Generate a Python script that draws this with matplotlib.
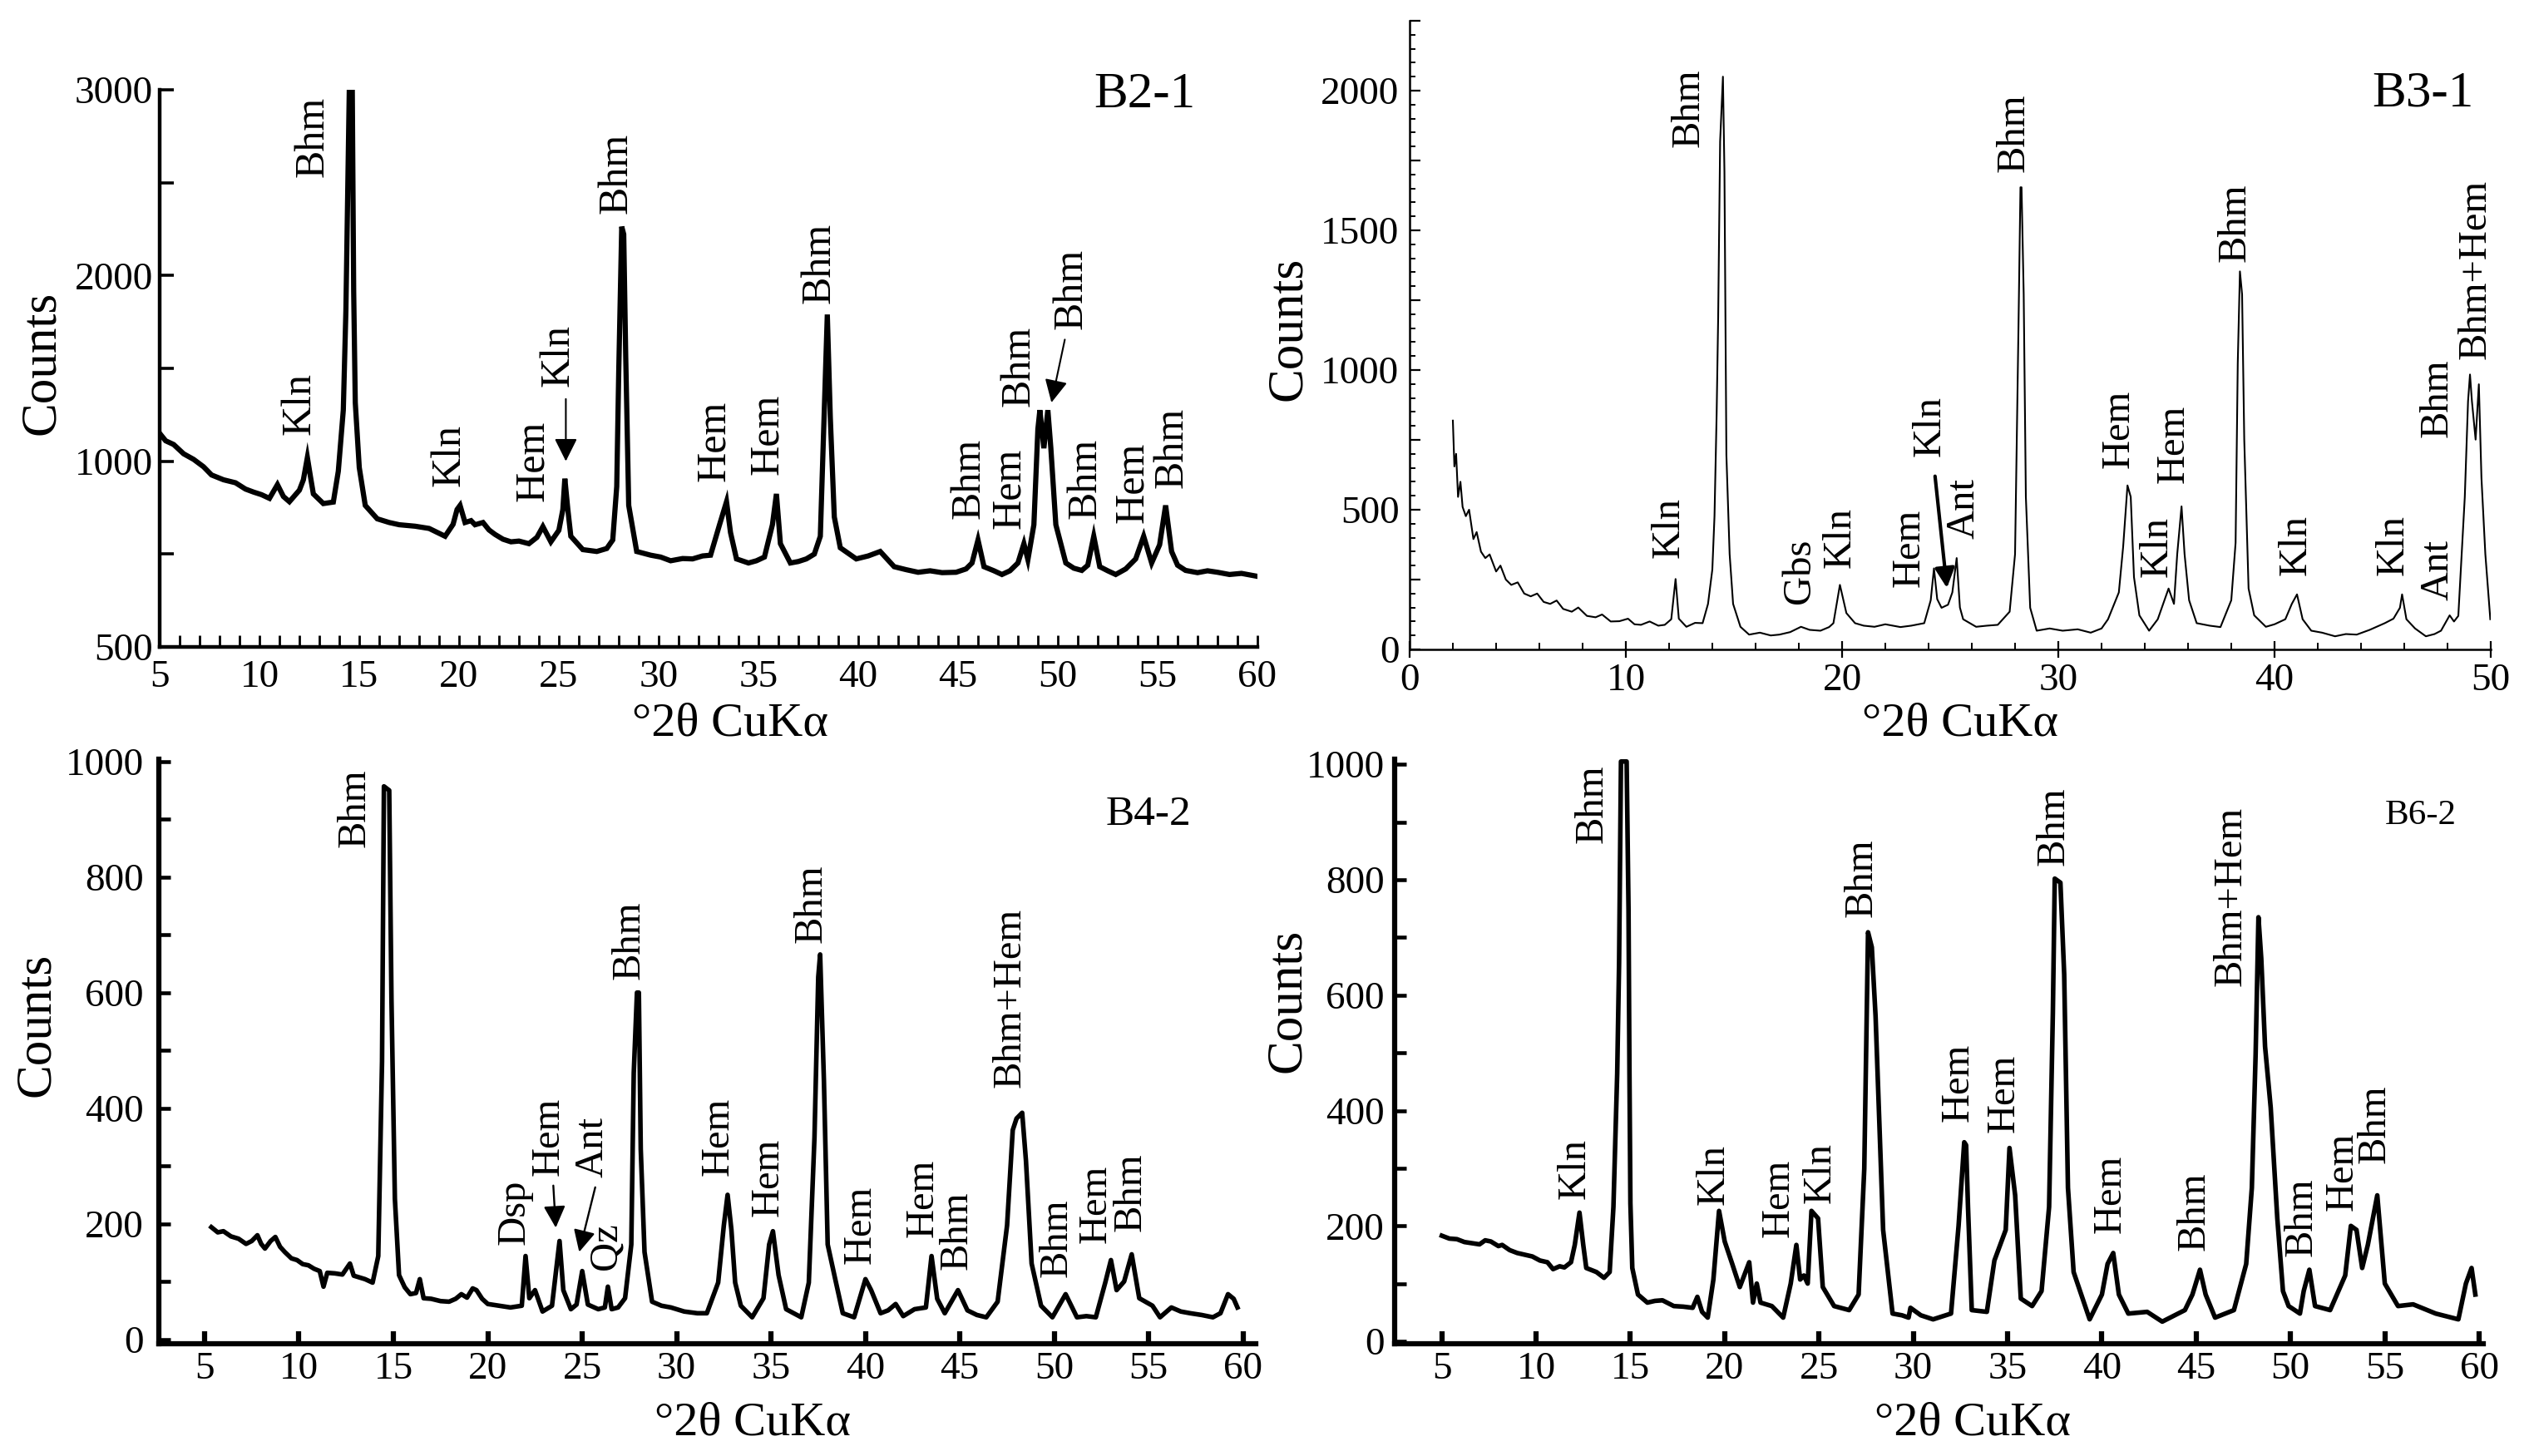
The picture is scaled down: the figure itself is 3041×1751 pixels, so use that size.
import matplotlib
matplotlib.use("Agg")
import matplotlib.pyplot as plt
import numpy as np
from matplotlib.ticker import MultipleLocator, FuncFormatter

plt.rcParams['font.family'] = ['Liberation Serif', 'DejaVu Serif']

#--DATA--#
# B2-1 (counts, drawn on the odd 500/1000/2000/3000 axis of the original)
b21_x = [5.0, 5.3, 5.7, 6.2, 6.7, 7.2, 7.6, 8.2, 8.8, 9.3,
         9.7, 10.1, 10.5, 10.9, 11.2, 11.5, 12.0, 12.2, 12.4, 12.55,
         12.7, 13.2, 13.7, 13.95, 14.2, 14.33, 14.43, 14.5, 14.65, 14.72,
         14.8, 15.0, 15.3, 15.9, 16.5, 17.0, 17.8, 18.5, 19.3, 19.7,
         19.9, 20.05, 20.3, 20.6, 20.8, 21.2, 21.5, 21.8, 22.2, 22.6,
         23.0, 23.5, 23.9, 24.2, 24.6, 25.0, 25.2, 25.3, 25.45, 25.6,
         26.2, 26.9, 27.4, 27.7, 27.9, 28.0, 28.15, 28.25, 28.35, 28.5,
         28.9, 29.6, 30.1, 30.6, 31.2, 31.7, 32.2, 32.6, 33.05, 33.4,
         33.6, 33.9, 34.5, 34.9, 35.3, 35.7, 35.9, 36.1, 36.6, 37.0,
         37.4, 37.8, 38.1, 38.3, 38.45, 38.6, 38.8, 39.1, 39.9, 40.5,
         41.1, 41.8, 42.4, 43.0, 43.6, 44.2, 44.9, 45.4, 45.7, 46.0,
         46.3, 46.8, 47.2, 47.6, 48.0, 48.3, 48.5, 48.8, 49.0, 49.1,
         49.3, 49.5, 49.65, 49.9, 50.4, 50.8, 51.2, 51.5, 51.8, 52.1,
         52.5, 52.9, 53.4, 53.9, 54.3, 54.7, 55.1, 55.4, 55.7, 56.0,
         56.4, 57.0, 57.5, 58.0, 58.6, 59.2, 60.0]
b21_y = [1150, 1110, 1090, 1040, 1010, 985, 963, 950, 942, 925,
         917, 910, 900, 937, 905, 891, 922, 950, 1020, 960,
         912, 886, 890, 973, 1275, 1810, 2510, 3000, 3000, 1915,
         1316, 983, 881, 845, 835, 829, 825, 819, 798, 830,
         870, 881, 835, 840, 829, 835, 815, 803, 790, 783,
         785, 778, 795, 824, 783, 814, 870, 953, 870, 798,
         762, 757, 765, 788, 932, 1481, 2263, 2222, 1564, 881,
         757, 747, 742, 732, 738, 737, 745, 747, 829, 891,
         808, 737, 726, 732, 742, 829, 912, 778, 726, 730,
         737, 750, 798, 1275, 1790, 1235, 850, 767, 737, 745,
         757, 716, 708, 701, 705, 700, 701, 710, 726, 788,
         716, 705, 695, 705, 726, 778, 735, 829, 1173, 1275,
         1070, 1275, 1070, 829, 726, 712, 706, 720, 798, 716,
         705, 695, 710, 737, 798, 726, 775, 881, 757, 720,
         706, 700, 705, 701, 695, 698, 690]

# B3-1
b31_x = [2.0, 2.07, 2.15, 2.24, 2.35, 2.45, 2.6, 2.75, 2.95, 3.1,
         3.3, 3.5, 3.7, 4.0, 4.2, 4.45, 4.7, 5.0, 5.3, 5.6,
         5.9, 6.2, 6.5, 6.8, 7.1, 7.5, 7.8, 8.2, 8.6, 8.9,
         9.3, 9.7, 10.1, 10.4, 10.7, 11.1, 11.5, 11.8, 12.1, 12.3,
         12.45, 12.8, 13.2, 13.55, 13.8, 14.0, 14.1, 14.2, 14.27, 14.36,
         14.43, 14.49, 14.56, 14.65, 14.8, 14.96, 15.3, 15.7, 16.2, 16.7,
         17.1, 17.6, 18.1, 18.5, 19.0, 19.4, 19.6, 19.9, 20.2, 20.6,
         21.0, 21.5, 22.0, 22.7, 23.2, 23.8, 24.1, 24.25, 24.4, 24.6,
         24.9, 25.1, 25.3, 25.45, 25.6, 26.2, 26.7, 27.2, 27.75, 28.0,
         28.16, 28.25, 28.3, 28.4, 28.5, 28.7, 29.0, 29.6, 30.2, 30.9,
         31.5, 32.0, 32.3, 32.8, 33.0, 33.2, 33.35, 33.5, 33.75, 34.2,
         34.6, 35.1, 35.35, 35.5, 35.7, 35.84, 36.05, 36.4, 37.0, 37.5,
         38.0, 38.2, 38.3, 38.4, 38.5, 38.6, 38.8, 39.06, 39.6, 40.0,
         40.5, 40.8, 41.04, 41.3, 41.7, 42.2, 42.8, 43.3, 43.8, 44.4,
         45.1, 45.5, 45.8, 45.9, 46.1, 46.5, 47.0, 47.4, 47.7, 48.1,
         48.3, 48.5, 48.8, 48.95, 49.04, 49.13, 49.3, 49.45, 49.57, 49.75,
         49.98]
b31_y = [819, 655, 700, 546, 600, 510, 477, 500, 395, 420,
         350, 327, 340, 279, 300, 250, 231, 240, 200, 190,
         200, 170, 163, 175, 145, 135, 150, 120, 115, 125,
         100, 101, 110, 90, 88, 100, 85, 88, 108, 252,
         110, 81, 95, 94, 163, 286, 477, 847, 1189, 1818,
         1941, 2050, 1709, 696, 341, 163, 81, 53, 60, 50,
         53, 62, 81, 70, 67, 80, 94, 231, 130, 94,
         85, 81, 90, 80, 85, 94, 176, 290, 180, 149,
         160, 204, 327, 150, 108, 81, 85, 88, 135, 341,
         1161, 1654, 1654, 1271, 546, 149, 67, 75, 67, 72,
         60, 75, 108, 204, 368, 587, 546, 259, 122, 67,
         108, 218, 163, 341, 512, 341, 176, 94, 85, 80,
         176, 382, 1025, 1353, 1271, 751, 218, 122, 81, 90,
         108, 163, 197, 108, 67, 60, 47, 55, 53, 70,
         94, 110, 149, 197, 108, 75, 47, 55, 67, 122,
         100, 120, 546, 888, 984, 888, 751, 949, 614, 341,
         108]

# B4-2
b42_x = [5.36, 5.7, 6.0, 6.4, 6.8, 7.2, 7.5, 7.8, 8.0, 8.2,
         8.5, 8.75, 9.0, 9.25, 9.6, 9.9, 10.2, 10.5, 10.8, 11.1,
         11.3, 11.5, 11.9, 12.3, 12.7, 12.9, 13.1, 13.5, 13.9, 14.2,
         14.4, 14.5, 14.78, 14.9, 15.08, 15.3, 15.6, 15.9, 16.2, 16.4,
         16.6, 17.0, 17.5, 17.95, 18.3, 18.6, 18.9, 19.2, 19.4, 19.7,
         20.0, 20.6, 21.2, 21.8, 22.0, 22.2, 22.5, 22.9, 23.4, 23.8,
         24.0, 24.4, 24.7, 25.0, 25.3, 25.85, 26.2, 26.36, 26.56, 26.9,
         27.27, 27.6, 27.73, 27.9, 28.0, 28.1, 28.3, 28.7, 29.2, 29.7,
         30.4, 31.1, 31.6, 32.2, 32.5, 32.7, 32.9, 33.1, 33.4, 34.0,
         34.6, 34.9, 35.1, 35.4, 35.8, 36.6, 37.0, 37.3, 37.5, 37.6,
         37.8, 38.0, 38.4, 38.8, 39.4, 40.0, 40.3, 40.8, 41.2, 41.6,
         42.0, 42.6, 43.2, 43.5, 43.8, 44.2, 44.9, 45.4, 45.9, 46.4,
         47.0, 47.5, 47.8, 48.0, 48.3, 48.5, 48.8, 49.3, 49.9, 50.6,
         51.2, 51.7, 52.2, 52.7, 53.0, 53.3, 53.7, 54.1, 54.5, 55.2,
         55.6, 56.2, 56.7, 57.2, 57.8, 58.4, 58.8, 59.2, 59.5, 59.7]
b42_y = [194, 185, 187, 178, 174, 165, 170, 180, 165, 157,
         170, 177, 160, 151, 140, 137, 130, 128, 122, 118,
         91, 115, 114, 112, 131, 110, 108, 104, 98, 144,
         481, 957, 950, 587, 243, 111, 90, 78, 80, 104,
         71, 70, 66, 65, 70, 78, 72, 88, 85, 70,
         61, 58, 55, 58, 144, 71, 85, 48, 58, 170,
         85, 52, 60, 118, 60, 52, 55, 91, 52, 55,
         71, 164, 461, 600, 600, 329, 151, 65, 58, 55,
         48, 45, 45, 98, 197, 250, 190, 98, 58, 38,
         71, 164, 187, 111, 52, 38, 98, 349, 627, 666,
         448, 164, 104, 45, 38, 104, 85, 45, 50, 61,
         40, 52, 55, 144, 70, 45, 85, 50, 42, 38,
         65, 197, 362, 382, 392, 309, 131, 58, 38, 78,
         38, 40, 38, 98, 137, 85, 100, 147, 71, 58,
         38, 55, 48, 45, 42, 38, 45, 78, 70, 55]

# B6-2
b62_x = [5.0, 5.4, 5.8, 6.2, 6.6, 7.0, 7.3, 7.6, 8.0, 8.2,
         8.6, 9.0, 9.4, 9.8, 10.2, 10.6, 10.9, 11.25, 11.5, 11.85,
         12.05, 12.3, 12.5, 12.66, 13.2, 13.6, 13.9, 14.1, 14.3, 14.4,
         14.5, 14.8, 14.9, 14.95, 15.0, 15.1, 15.4, 15.9, 16.3, 16.7,
         17.3, 17.8, 18.3, 18.55, 18.8, 19.1, 19.4, 19.7, 20.0, 20.4,
         20.8, 21.3, 21.5, 21.7, 21.9, 22.5, 23.1, 23.5, 23.8, 24.0,
         24.2, 24.4, 24.6, 24.95, 25.2, 25.8, 26.6, 27.1, 27.4, 27.6,
         27.8, 28.0, 28.2, 28.4, 28.9, 29.4, 29.75, 29.85, 30.4, 31.05,
         32.0, 32.4, 32.7, 32.8, 32.9, 33.1, 33.9, 34.3, 34.9, 35.1,
         35.4, 35.7, 36.3, 36.8, 37.2, 37.4, 37.5, 37.8, 38.0, 38.2,
         38.5, 39.35, 40.0, 40.3, 40.6, 40.9, 41.4, 42.4, 43.2, 44.4,
         44.8, 45.2, 45.5, 46.0, 47.0, 47.65, 47.95, 48.15, 48.3, 48.45,
         48.65, 48.95, 49.3, 49.6, 49.9, 50.5, 50.7, 51.0, 51.3, 52.1,
         52.9, 53.2, 53.5, 53.8, 54.1, 54.6, 55.0, 55.7, 56.5, 57.7,
         58.9, 59.3, 59.6, 59.8]
b62_y = [183, 178, 177, 172, 170, 168, 175, 173, 165, 167,
         158, 153, 150, 147, 140, 137, 125, 130, 128, 137,
         167, 223, 167, 127, 120, 110, 120, 233, 464, 656,
         1005, 1005, 749, 464, 239, 127, 81, 67, 70, 71,
         61, 60, 58, 77, 51, 41, 107, 226, 173, 134,
         94, 137, 67, 100, 67, 61, 41, 100, 167, 107,
         114, 100, 226, 213, 94, 61, 54, 81, 299, 709,
         683, 563, 378, 193, 48, 45, 41, 58, 45, 38,
         48, 200, 345, 340, 233, 54, 51, 140, 193, 335,
         253, 74, 61, 87, 233, 570, 802, 795, 636, 266,
         120, 38, 81, 134, 153, 81, 48, 51, 34, 54,
         81, 124, 81, 41, 54, 134, 266, 497, 735, 663,
         511, 405, 213, 87, 61, 48, 87, 124, 61, 54,
         114, 200, 193, 127, 167, 253, 100, 61, 64, 48,
         38, 100, 127, 81]

# peak labels: text, 2theta, count at the foot of the text
b21_lab = ['Kln', 'Bhm', 'Kln', 'Hem', 'Kln', 'Bhm', 'Hem', 'Hem', 'Bhm',
           'Bhm', 'Hem', 'Bhm', 'Bhm', 'Bhm', 'Hem', 'Bhm']
b21_lab_x = [12.0, 12.7, 19.5, 23.7, 24.95, 27.9, 32.8, 35.46, 38.05,
             45.55, 47.56, 48.05, 50.7, 51.4, 53.75, 55.73]
b21_lab_y = [1140, 2530, 932, 891, 1400, 2335, 945, 963, 1850,
             845, 819, 1296, 1710, 845, 834, 927]

b31_lab = ['Kln', 'Bhm', 'Gbs', 'Kln', 'Hem', 'Kln', 'Ant', 'Bhm', 'Hem',
           'Kln', 'Hem', 'Bhm', 'Kln', 'Kln', 'Ant', 'Bhm', 'Bhm+Hem']
b31_lab_x = [12.0, 12.9, 18.05, 19.9, 23.1, 24.05, 25.63, 27.93, 32.8,
             34.55, 35.35, 38.17, 41.0, 45.5, 47.54, 47.54, 49.3]
b31_lab_y = [327, 1798, 163, 293, 224, 690, 395, 1709, 648,
             259, 594, 1387, 265, 265, 176, 758, 1038]

b42_lab = ['Bhm', 'Dsp', 'Hem', 'Ant', 'Qz', 'Bhm', 'Hem', 'Hem', 'Bhm',
           'Hem', 'Hem', 'Bhm', 'Bhm+Hem', 'Bhm', 'Hem', 'Bhm']
b42_lab_x = [12.96, 21.4, 23.2, 25.55, 26.25, 27.47, 32.2, 34.84, 37.14,
             39.74, 43.04, 44.84, 47.64, 50.14, 52.2, 54.05]
b42_lab_y = [851, 164, 283, 280, 121, 623, 283, 213, 686,
             131, 177, 121, 435, 108, 167, 187]

b62_lab = ['Kln', 'Bhm', 'Kln', 'Hem', 'Kln', 'Bhm', 'Hem', 'Hem', 'Bhm',
           'Hem', 'Bhm', 'Bhm+Hem', 'Bhm', 'Hem', 'Bhm']
b62_lab_x = [12.06, 12.96, 19.4, 22.84, 25.06, 27.28, 32.4, 34.8, 37.43,
             40.47, 44.92, 46.84, 50.59, 52.75, 54.45]
b62_lab_y = [246, 864, 236, 180, 239, 735, 380, 362, 825,
             187, 157, 616, 147, 226, 309]

# arrows: (tail x, tail y, head x, head y)
b21_arrows = [(25.35, 1335, 25.35, 1000), (50.35, 1655, 49.68, 1316)]
b31_arrows = [(24.3, 620, 24.85, 220)]
b42_arrows = [(23.47, 266, 23.6, 193), (25.69, 263, 24.84, 151)]
#----#

XLABEL = '\u00b02\u03b8 CuK\u03b1'
W, H = 3041, 1751


def px_box(left, top, right, bottom):
    '''axes box from pixel edges of the reference'''
    return [left / W, 1 - bottom / H, (right - left) / W, (bottom - top) / H]


def peak_labels(ax, names, xs, ys, size=36):
    for name, x, y in zip(names, xs, ys):
        ax.text(x, y, name, rotation=90, ha='center', va='bottom', fontsize=size)


def arrows(ax, items, lw, scale):
    for x0, y0, x1, y1 in items:
        ax.annotate('', xy=(x1, y1), xytext=(x0, y0),
                    arrowprops=dict(arrowstyle='-|>', lw=lw, color='black',
                                    mutation_scale=scale, shrinkA=0, shrinkB=0))


def bare(ax, lw):
    ax.spines['top'].set_visible(False)
    ax.spines['right'].set_visible(False)
    ax.spines['left'].set_linewidth(lw)
    ax.spines['bottom'].set_linewidth(lw)


fig = plt.figure(figsize=(W / 100, H / 100), dpi=100)

# ---- B2-1 ----
ax1 = fig.add_axes(px_box(192, 108, 1512, 778))
u_counts = [500, 1000, 2000, 3000]
u_pos = [0, 2, 4, 6]
ax1.set_yscale('function', functions=(lambda v: np.interp(v, u_counts, u_pos),
                                       lambda u: np.interp(u, u_pos, u_counts)))
ax1.plot(b21_x, b21_y, color='black', lw=4.5, solid_joinstyle='miter')
ax1.set_xlim(5, 60)
ax1.set_ylim(500, 3000)
ax1.set_yticks([500, 750, 1000, 1500, 2000, 2500, 3000],
               ['500', '', '1000', '', '2000', '', '3000'])
ax1.xaxis.set_major_locator(MultipleLocator(5))
ax1.xaxis.set_minor_locator(MultipleLocator(1))
ax1.tick_params(axis='x', which='both', direction='in', length=10, width=2,
                pad=11, labelsize=34)
ax1.tick_params(axis='y', which='both', direction='in', length=12, width=2.6,
                pad=6, labelsize=34)
ax1.yaxis.set_minor_locator(plt.NullLocator())
bare(ax1, 3.2)
peak_labels(ax1, b21_lab, b21_lab_x, b21_lab_y)
arrows(ax1, b21_arrows, 1.5, 42)
ax1.text(56.9, 2970, 'B2-1', ha='right', va='center', fontsize=44)

# ---- B3-1 ----
ax2 = fig.add_axes(px_box(1695, 25, 2995, 781))
ax2.plot(b31_x, b31_y, color='black', lw=1.5)
ax2.set_xlim(0, 50)
ax2.set_ylim(0, 2250)
ax2.xaxis.set_major_locator(MultipleLocator(10))
ax2.xaxis.set_minor_locator(MultipleLocator(2))
ax2.yaxis.set_major_locator(MultipleLocator(250))
ax2.yaxis.set_minor_locator(MultipleLocator(50))
ax2.yaxis.set_major_formatter(FuncFormatter(lambda v, p: f'{v:.0f}' if v % 500 == 0 else ''))
ax2.tick_params(axis='x', which='major', direction='inout', length=14, width=1.6,
                pad=5, labelsize=34)
ax2.tick_params(axis='x', which='minor', direction='in', length=6, width=1.4)
ax2.tick_params(axis='y', which='major', direction='in', length=9, width=1.6,
                pad=9, labelsize=34)
ax2.tick_params(axis='y', which='minor', direction='in', length=5, width=1.4)
bare(ax2, 1.8)
peak_labels(ax2, b31_lab, b31_lab_x, b31_lab_y, size=35)
arrows(ax2, b31_arrows, 3, 36)
ax2.text(49.2, 1988, 'B3-1', ha='right', va='center', fontsize=44)

# ---- B4-2 ----
ax3 = fig.add_axes(px_box(191, 913, 1510, 1616))
ax3.plot(b42_x, b42_y, color='black', lw=4)
ax3.set_xlim(2.58, 60.67)
ax3.set_ylim(-7.8, 1004)
ax3.set_xticks(range(5, 61, 5))
ax3.yaxis.set_major_locator(MultipleLocator(200))
ax3.yaxis.set_minor_locator(MultipleLocator(100))
ax3.tick_params(axis='x', direction='in', length=11, width=4.5, pad=7, labelsize=34)
ax3.tick_params(axis='y', which='both', direction='in', length=10, width=3.3,
                pad=13, labelsize=34)
bare(ax3, 4.5)
peak_labels(ax3, b42_lab, b42_lab_x, b42_lab_y, size=35)
arrows(ax3, b42_arrows, 1.7, 40)
ax3.text(57.26, 908, 'B4-2', ha='right', va='center', fontsize=37)

# ---- B6-2 ----
ax4 = fig.add_axes(px_box(1677, 913, 2986, 1616))
ax4.plot(b62_x, b62_y, color='black', lw=4)
ax4.set_xlim(2.5, 60.22)
ax4.set_ylim(-4.3, 1009)
ax4.set_xticks(range(5, 61, 5))
ax4.yaxis.set_major_locator(MultipleLocator(200))
ax4.yaxis.set_minor_locator(MultipleLocator(100))
ax4.tick_params(axis='x', direction='in', length=11, width=4.5, pad=7, labelsize=34)
ax4.tick_params(axis='y', which='both', direction='in', length=10, width=3.3,
                pad=9, labelsize=34)
bare(ax4, 4.5)
peak_labels(ax4, b62_lab, b62_lab_x, b62_lab_y, size=35)
ax4.text(58.8, 912, 'B6-2', ha='right', va='center', fontsize=31)

# axis titles placed where the reference has them
for x, y in [(0.0164, 0.751), (0.5094, 0.774), (0.0145, 0.296), (0.509, 0.313)]:
    fig.text(x, y, 'Counts', rotation=90, ha='center', va='center', fontsize=44)
for x, y in [(0.2887, 0.5026), (0.775, 0.5026), (0.2976, 0.0223), (0.78, 0.0223)]:
    fig.text(x, y, XLABEL, ha='center', va='center', fontsize=42)

fig.savefig('out.png', dpi=100)
